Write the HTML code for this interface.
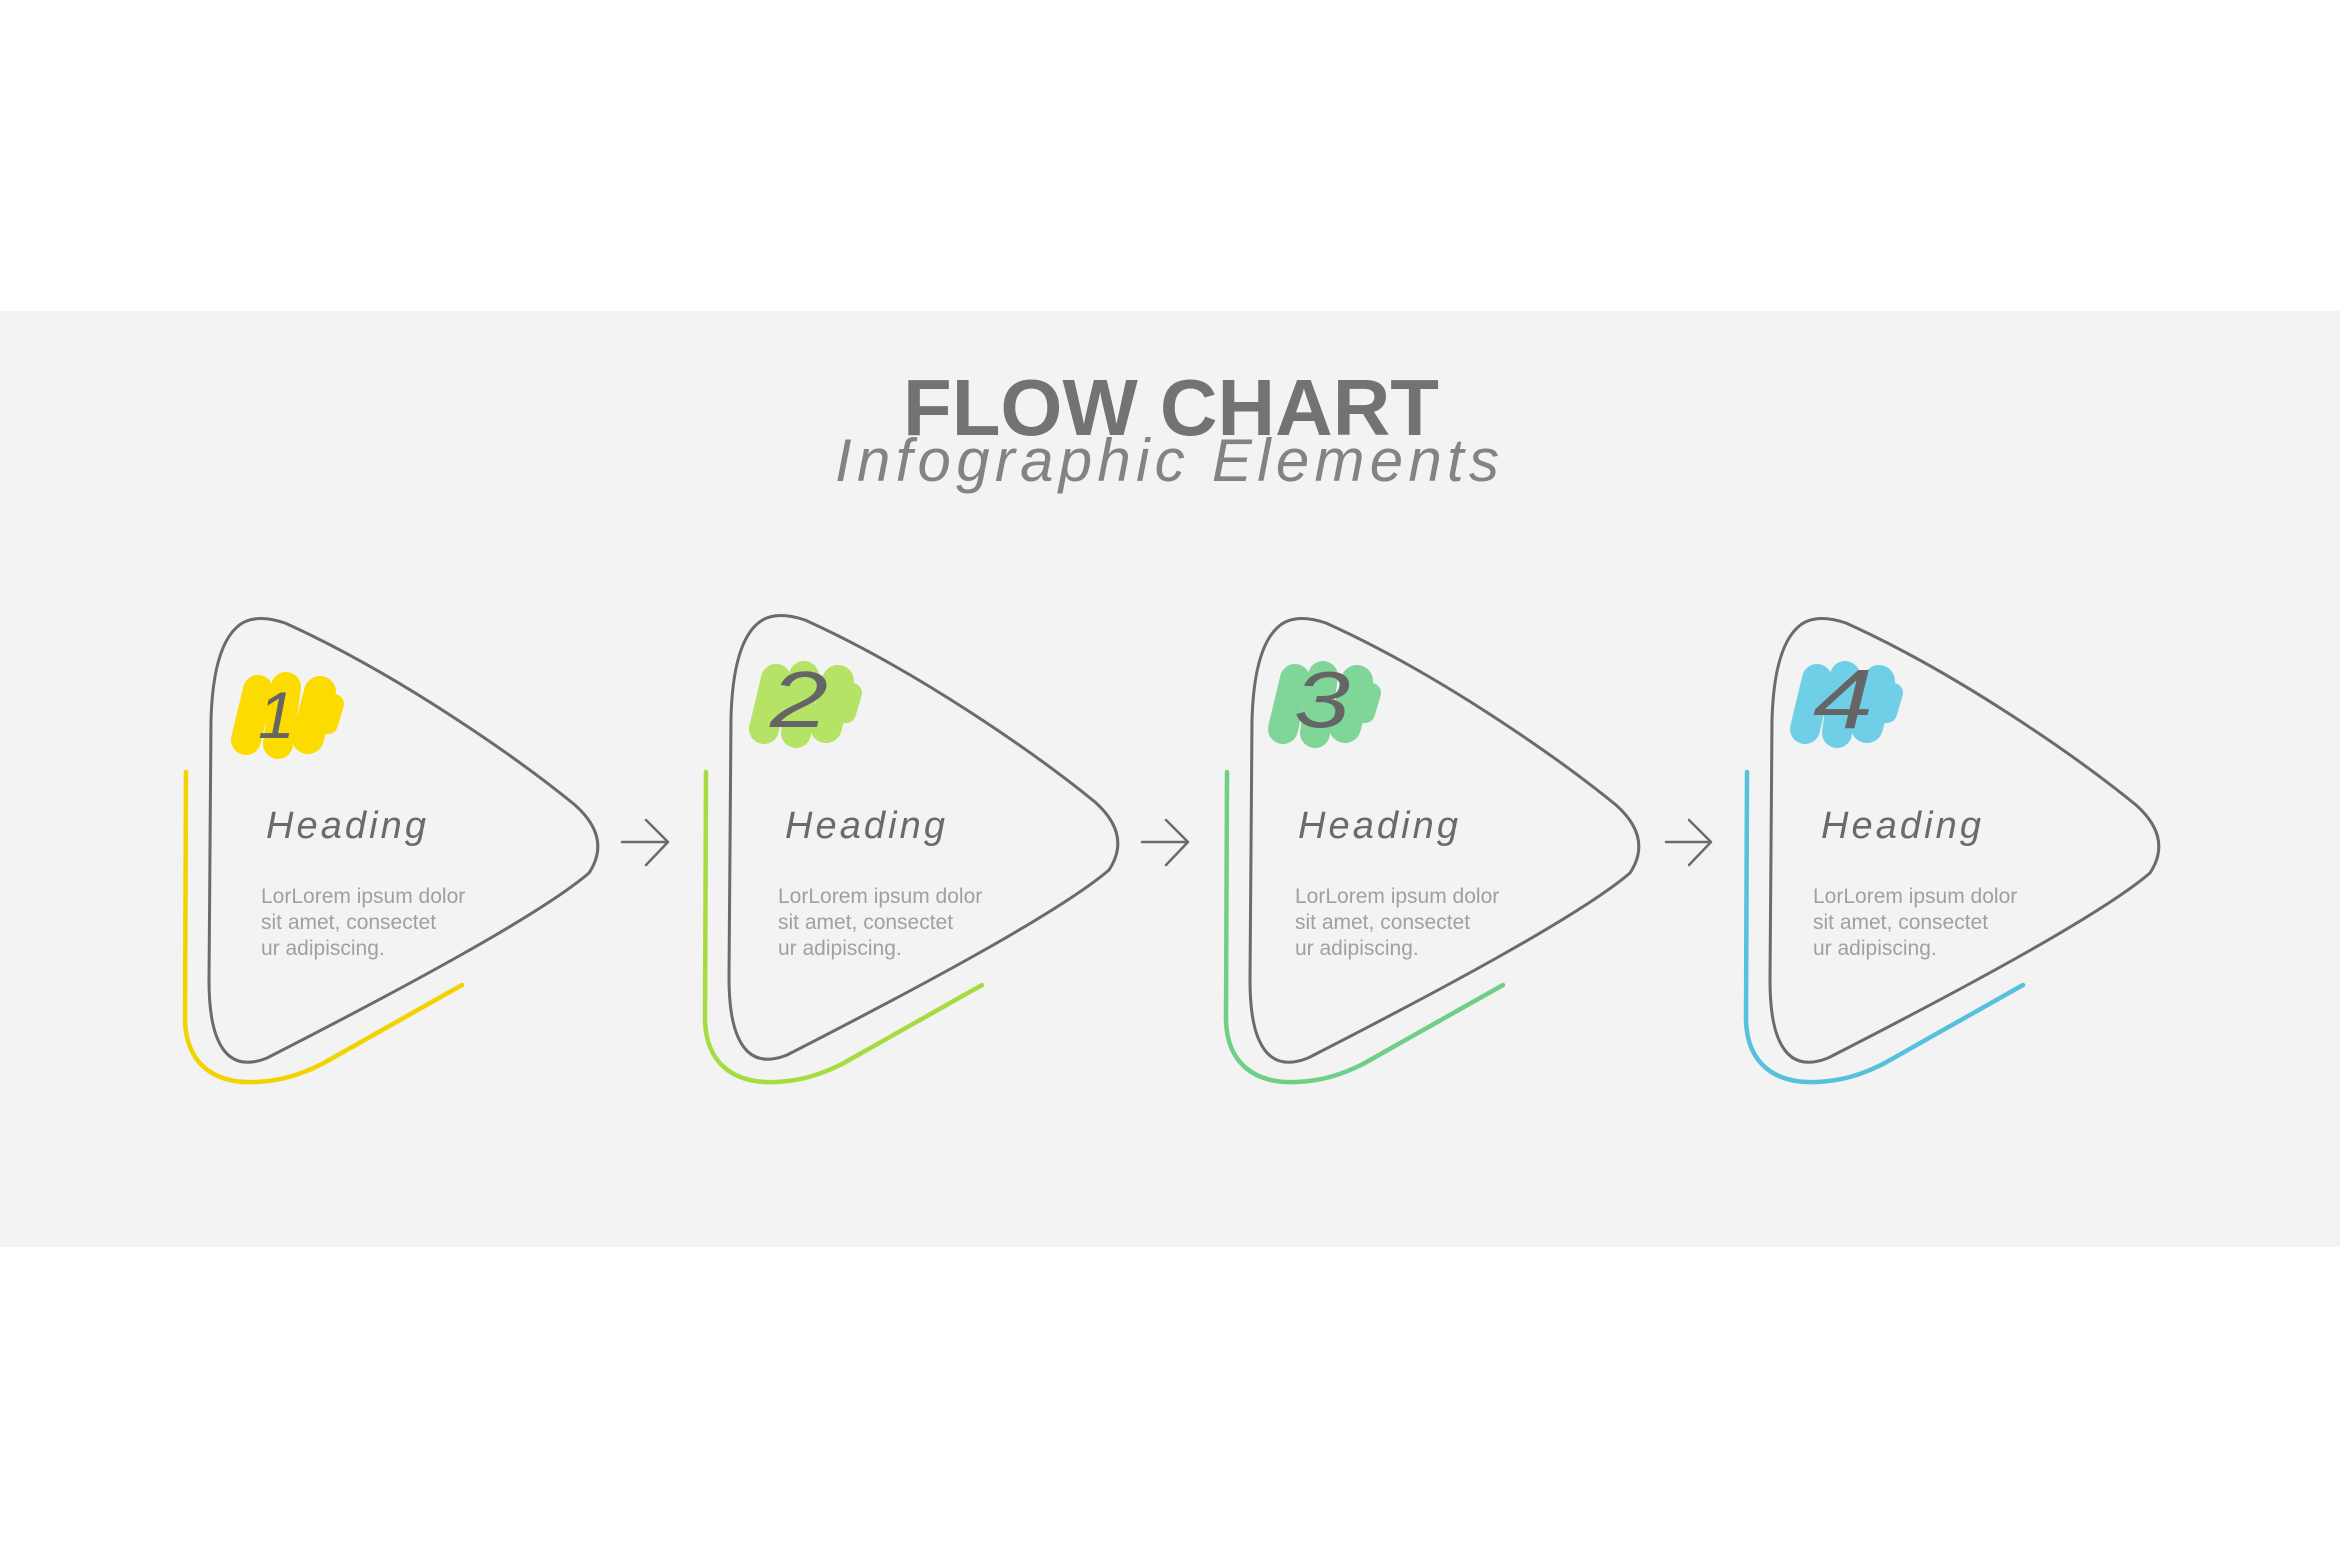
<!DOCTYPE html>
<html>
<head>
<meta charset="utf-8">
<style>
  html, body { margin: 0; padding: 0; background: #ffffff; }
  body { width: 2340px; height: 1560px; overflow: hidden; }
  svg { display: block; }
  .title { font-family: "Liberation Sans", sans-serif; font-weight: bold; fill: #737373; }
  .sub { font-family: "Liberation Sans", sans-serif; font-style: italic; fill: #838383; }
  .head { font-family: "Liberation Sans", sans-serif; font-style: italic; fill: #6a6a6a; }
  .num { font-family: "Liberation Sans", sans-serif; font-style: italic; fill: #656565; }
  .body { font-family: "Liberation Sans", sans-serif; fill: #a0a0a0; font-size: 21px; }
  .outline { fill: none; stroke: #6b6b6b; stroke-width: 3; stroke-linejoin: round; }
  .arrow { fill: none; stroke: #6b6b6b; stroke-width: 2.5; stroke-linecap: round; stroke-linejoin: round; }
  .accent { fill: none; stroke-width: 4.5; stroke-linecap: round; stroke-linejoin: round; }
  .blob { fill: none; stroke-linecap: round; }
</style>
</head>
<body>
<svg width="2340" height="1560" viewBox="0 0 2340 1560" xmlns="http://www.w3.org/2000/svg">
  <rect x="0" y="0" width="2340" height="1560" fill="#ffffff"/>
  <rect x="0" y="311" width="2340" height="936" fill="#f3f3f3"/>

  <!-- Title -->
  <text class="title" x="903" y="435" font-size="80" textLength="536" lengthAdjust="spacingAndGlyphs">FLOW CHART</text>
  <text class="sub" x="835" y="481" font-size="60" textLength="664" lengthAdjust="spacing">Infographic Elements</text>

  <!-- Panel 1 -->
  <g transform="translate(0,0)">
    <path class="accent" stroke="#f2d300" d="M 186,772 L 185,1020 C 186,1062 212,1084 256,1082 C 280,1081 300,1075 322,1064 L 462,985"/>
    <path class="outline" d="M 236,628 Q 252,612 285,623 C 400,675 520,760 575,805 Q 612,838 589,873 C 540,915 400,990 267,1058 Q 232,1072 218,1040 Q 209,1020 209,980 L 211,720 Q 213,650 236,628 Z"/>
    <path class="arrow" d="M 622,842 L 668,842 M 646,820 L 668,842 L 646,865"/>
    <g transform="translate(228,670)" stroke="#fcdb00">
      <line class="blob" x1="18" y1="70" x2="30" y2="20" stroke-width="30"/>
      <line class="blob" x1="50" y1="74" x2="58" y2="17" stroke-width="30"/>
      <line class="blob" x1="80" y1="68" x2="92" y2="22" stroke-width="32"/>
      <line class="blob" x1="100" y1="54" x2="106" y2="34" stroke-width="20"/>
    </g>
  </g>

  <!-- Panel 2 -->
  <g transform="translate(520,-3)">
    <path class="accent" stroke="#a6dc40" d="M 186,775 L 185,1023 C 186,1065 212,1087 256,1085 C 280,1084 300,1078 322,1067 L 462,988"/>
    <path class="outline" d="M 236,628 Q 252,612 285,623 C 400,675 520,760 575,805 Q 612,838 589,873 C 540,915 400,990 267,1058 Q 232,1072 218,1040 Q 209,1020 209,980 L 211,720 Q 213,650 236,628 Z"/>
    <path class="arrow" d="M 622,845 L 668,845 M 646,823 L 668,845 L 646,868"/>
  </g>
  <g transform="translate(746,659)" stroke="#b4e366">
    <line class="blob" x1="18" y1="70" x2="30" y2="20" stroke-width="30"/>
    <line class="blob" x1="50" y1="74" x2="58" y2="17" stroke-width="30"/>
    <line class="blob" x1="80" y1="68" x2="92" y2="22" stroke-width="32"/>
    <line class="blob" x1="100" y1="54" x2="106" y2="34" stroke-width="20"/>
  </g>

  <!-- Panel 3 -->
  <g transform="translate(1041,0)">
    <path class="accent" stroke="#6fcf86" d="M 186,772 L 185,1020 C 186,1062 212,1084 256,1082 C 280,1081 300,1075 322,1064 L 462,985"/>
    <path class="outline" d="M 236,628 Q 252,612 285,623 C 400,675 520,760 575,805 Q 612,838 589,873 C 540,915 400,990 267,1058 Q 232,1072 218,1040 Q 209,1020 209,980 L 211,720 Q 213,650 236,628 Z"/>
    <path class="arrow" d="M 625,842 L 670,842 M 648,820 L 670,842 L 648,865"/>
  </g>
  <g transform="translate(1265,659)" stroke="#80d698">
    <line class="blob" x1="18" y1="70" x2="30" y2="20" stroke-width="30"/>
    <line class="blob" x1="50" y1="74" x2="58" y2="17" stroke-width="30"/>
    <line class="blob" x1="80" y1="68" x2="92" y2="22" stroke-width="32"/>
    <line class="blob" x1="100" y1="54" x2="106" y2="34" stroke-width="20"/>
  </g>

  <!-- Panel 4 -->
  <g transform="translate(1561,0)">
    <path class="accent" stroke="#56c1dd" d="M 186,772 L 185,1020 C 186,1062 212,1084 256,1082 C 280,1081 300,1075 322,1064 L 462,985"/>
    <path class="outline" d="M 236,628 Q 252,612 285,623 C 400,675 520,760 575,805 Q 612,838 589,873 C 540,915 400,990 267,1058 Q 232,1072 218,1040 Q 209,1020 209,980 L 211,720 Q 213,650 236,628 Z"/>
  </g>
  <g transform="translate(1787,659)" stroke="#6fcfe7">
    <line class="blob" x1="18" y1="70" x2="30" y2="20" stroke-width="30"/>
    <line class="blob" x1="50" y1="74" x2="58" y2="17" stroke-width="30"/>
    <line class="blob" x1="80" y1="68" x2="92" y2="22" stroke-width="32"/>
    <line class="blob" x1="100" y1="54" x2="106" y2="34" stroke-width="20"/>
  </g>

  <!-- Numbers -->
  <text class="num" x="258" y="738" font-size="66">1</text>
  <text class="num" x="770" y="727" font-size="80" textLength="58" lengthAdjust="spacingAndGlyphs">2</text>
  <text class="num" x="1294" y="727" font-size="80" textLength="56" lengthAdjust="spacingAndGlyphs">3</text>
  <text class="num" x="1813" y="728" font-size="84" textLength="60" lengthAdjust="spacingAndGlyphs">4</text>

  <!-- Headings -->
  <text class="head" x="266" y="838" font-size="38" textLength="160" lengthAdjust="spacing">Heading</text>
  <text class="head" x="785" y="838" font-size="38" textLength="160" lengthAdjust="spacing">Heading</text>
  <text class="head" x="1298" y="838" font-size="38" textLength="160" lengthAdjust="spacing">Heading</text>
  <text class="head" x="1821" y="838" font-size="38" textLength="160" lengthAdjust="spacing">Heading</text>

  <!-- Body texts -->
  <text class="body" x="261" y="903">LorLorem ipsum dolor</text>
  <text class="body" x="261" y="929">sit amet, consectet</text>
  <text class="body" x="261" y="955">ur adipiscing.</text>

  <text class="body" x="778" y="903">LorLorem ipsum dolor</text>
  <text class="body" x="778" y="929">sit amet, consectet</text>
  <text class="body" x="778" y="955">ur adipiscing.</text>

  <text class="body" x="1295" y="903">LorLorem ipsum dolor</text>
  <text class="body" x="1295" y="929">sit amet, consectet</text>
  <text class="body" x="1295" y="955">ur adipiscing.</text>

  <text class="body" x="1813" y="903">LorLorem ipsum dolor</text>
  <text class="body" x="1813" y="929">sit amet, consectet</text>
  <text class="body" x="1813" y="955">ur adipiscing.</text>
</svg>
</body>
</html>
